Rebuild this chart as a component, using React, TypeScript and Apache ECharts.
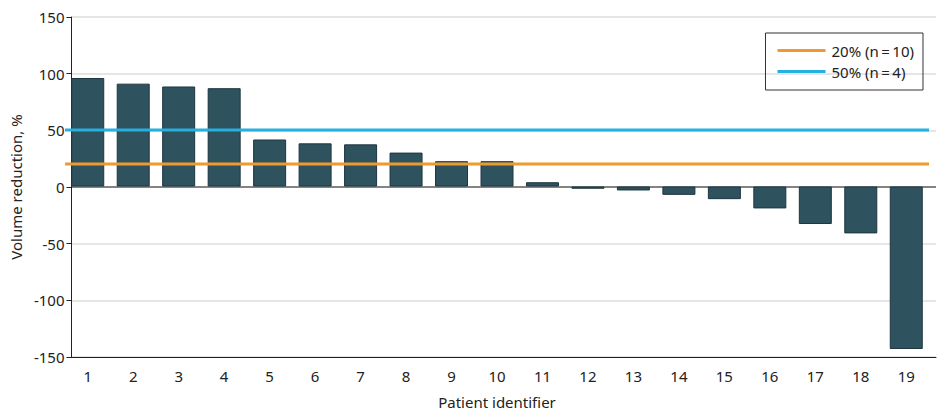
import React, { useEffect, useRef } from "react";
import * as echarts from "echarts";

const patients = ["1","2","3","4","5","6","7","8","9","10","11","12","13","14","15","16","17","18","19"];
const reduction = [96, 91, 88.5, 87, 41.6, 38.2, 37.3, 30, 22.4, 22.4, 3.8, -2, -3.5, -7.4, -11.2, -19.4, -33.2, -41.5, -143.8];
const thresholdNames = ["20% (n\u2009=\u200910)", "50% (n\u2009=\u20094)"];
const thresholdValues = [20, 50];
const yTicks = { min: -150, max: 150, interval: 50 };

const FONT = "Noto Sans";

export default function App() {
  const ref = useRef<HTMLDivElement>(null);
  useEffect(() => {
    const chart = echarts.init(ref.current!, null, { renderer: "svg" });
    const gridTop = 17, gridBottom = 57;
    chart.setOption({
      animation: false,
      textStyle: { fontFamily: FONT },
      grid: [
        { left: 61, right: 9, top: gridTop, bottom: gridBottom },
        { left: 65, right: 16, top: gridTop, bottom: gridBottom },
      ],
      legend: {
        data: thresholdNames,
        orient: "vertical",
        right: 22,
        top: 33,
        icon: "rect",
        borderColor: "#333",
        borderWidth: 1,
        padding: [10, 9, 11, 12],
        itemWidth: 48,
        itemHeight: 3,
        itemGap: 6,
        textStyle: { fontFamily: FONT, fontSize: 15, color: "#222", padding: [0, 0, 0, 1] },
      },
      xAxis: [
        {
          gridIndex: 0, type: "value", min: 0, max: 1, position: "bottom",
          axisLine: { show: true, onZero: false, lineStyle: { color: "#222", width: 1 } },
          axisTick: { show: false }, axisLabel: { show: false }, splitLine: { show: false },
        },
        {
          gridIndex: 1, type: "category", data: patients, position: "bottom",
          axisLine: { show: false }, axisTick: { show: false },
          axisLabel: { fontFamily: FONT, fontSize: 15, color: "#222", margin: 12 },
          name: "Patient identifier", nameLocation: "middle", nameGap: 38,
          nameTextStyle: { fontFamily: FONT, fontSize: 15, color: "#222" },
        },
        {
          gridIndex: 1, type: "value", min: 0, max: 1, show: false,
        },
      ],
      yAxis: [
        {
          gridIndex: 0, type: "value", min: yTicks.min, max: yTicks.max, interval: yTicks.interval,
          axisLine: { show: true, lineStyle: { color: "#222", width: 1 } },
          axisTick: { show: true, length: 5, lineStyle: { color: "#222" } },
          axisLabel: { fontFamily: FONT, fontSize: 15, color: "#222", margin: 7 },
          splitLine: { show: true, lineStyle: { color: "#dcdcdc", width: 1.5 } },
          name: "Volume reduction, %", nameLocation: "middle", nameGap: 42,
          nameTextStyle: { fontFamily: FONT, fontSize: 15, color: "#222" },
        },
        {
          gridIndex: 1, type: "value", min: yTicks.min, max: yTicks.max, interval: yTicks.interval, show: false,
          splitLine: { show: false },
        },
      ],
      series: [
        {
          type: "line", xAxisIndex: 0, yAxisIndex: 0, data: [[0, 0], [1, 0]],
          symbol: "none", silent: true, z: 1,
          lineStyle: { color: "#222", width: 1 },
        },
        {
          type: "bar", xAxisIndex: 1, yAxisIndex: 1, data: reduction, barWidth: 33,
          itemStyle: { color: "#2e525e", borderColor: "#1d3640", borderWidth: 1 },
          z: 2,
        },
        {
          type: "line", name: thresholdNames[0], xAxisIndex: 2, yAxisIndex: 1,
          data: [[0, thresholdValues[0]], [1, thresholdValues[0]]],
          symbol: "none", showSymbol: false, silent: true, z: 3,
          lineStyle: { color: "#ee9a2e", width: 3 }, itemStyle: { color: "#ee9a2e" },
        },
        {
          type: "line", name: thresholdNames[1], xAxisIndex: 2, yAxisIndex: 1,
          data: [[0, thresholdValues[1]], [1, thresholdValues[1]]],
          symbol: "none", showSymbol: false, silent: true, z: 3,
          lineStyle: { color: "#25b0e0", width: 3 }, itemStyle: { color: "#25b0e0" },
        },
      ],
    });
    return () => chart.dispose();
  }, []);
  return <div ref={ref} style={{ width: 945, height: 414, position: "absolute", left: 0, top: 0 }} />;
}
